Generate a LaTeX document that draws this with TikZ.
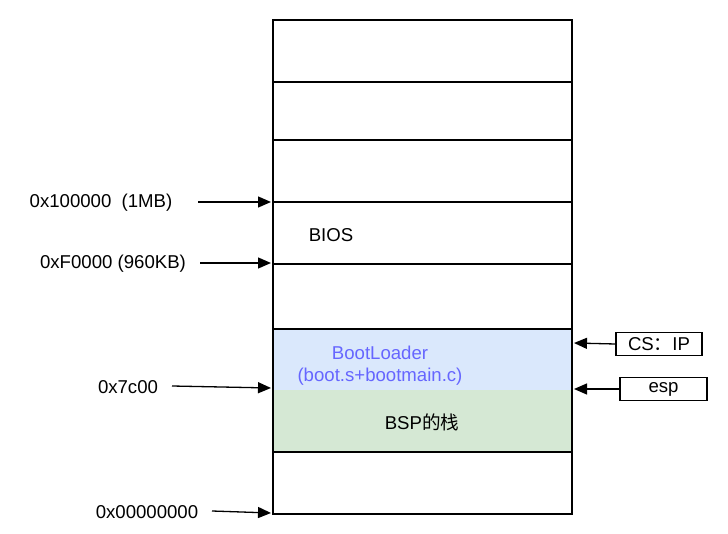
\documentclass[tikz,border=0pt]{standalone}
\usepackage{fontspec}
\setmainfont{Liberation Sans}
\newfontfamily\cjk{Noto Sans CJK SC}
\usetikzlibrary{arrows.meta}
\definecolor{bootblue}{HTML}{DAE8FC}
\definecolor{stackgreen}{HTML}{D5E8D4}
\definecolor{loadertext}{HTML}{6666FF}

\begin{document}
\begin{tikzpicture}[x=1pt,y=-1pt,font=\fontsize{18.6}{22}\selectfont,
  ptr/.style={-{Triangle[length=13pt,width=11pt]},line width=1.3pt},
  cell/.style={draw,line width=1.3pt},
  tag/.style={draw,line width=1.3pt,inner sep=0pt,minimum height=23pt}]
\useasboundingbox (0,0) rectangle (728,534);
% memory column
\fill[bootblue] (273,329) rectangle (572,390);
\fill[stackgreen] (273,390) rectangle (572,452);
\draw[cell] (273,20) rectangle (572,514);
\foreach \y in {82,140,202,264,329,452}
  \draw[line width=1.3pt] (273,\y) -- (572,\y);
\node (bios) at (331,235) {BIOS};
\node[text=loadertext,align=center] (loader) at (380,366) {BootLoader\\(boot.s+bootmain.c)};
\node (stack) at (422,422) {BSP{\cjk 的栈}};
% addresses on the left
\node (mb) at (101,203) {0x100000\hspace{0.55em}(1MB)};
\node (kb) at (113,264) {0xF0000 (960KB)};
\node (boot) at (128,387) {0x7c00};
\node (zero) at (147,512) {0x00000000};
\coordinate (mbend) at (271,202);
\coordinate (kbend) at (271,263);
\coordinate (bootend) at (271,388);
\coordinate (zeroend) at (271,513);
\draw[ptr] (198,202) -- (mbend);
\draw[ptr] (200,263) -- (kbend);
\draw[ptr] (172,386) -- (bootend);
\draw[ptr] (212,511) -- (zeroend);
% registers on the right
\node[tag,minimum width=86pt] (csip) at (659,344) {CS{\cjk ：}IP};
\node[tag,minimum width=87pt] (esp) at (663.5,389) {esp};
\coordinate (csipend) at (574,343);
\coordinate (espend) at (574,389);
\draw[ptr] (csip.west) -- (csipend);
\draw[ptr] (esp.west) -- (espend);
\end{tikzpicture}
\end{document}
